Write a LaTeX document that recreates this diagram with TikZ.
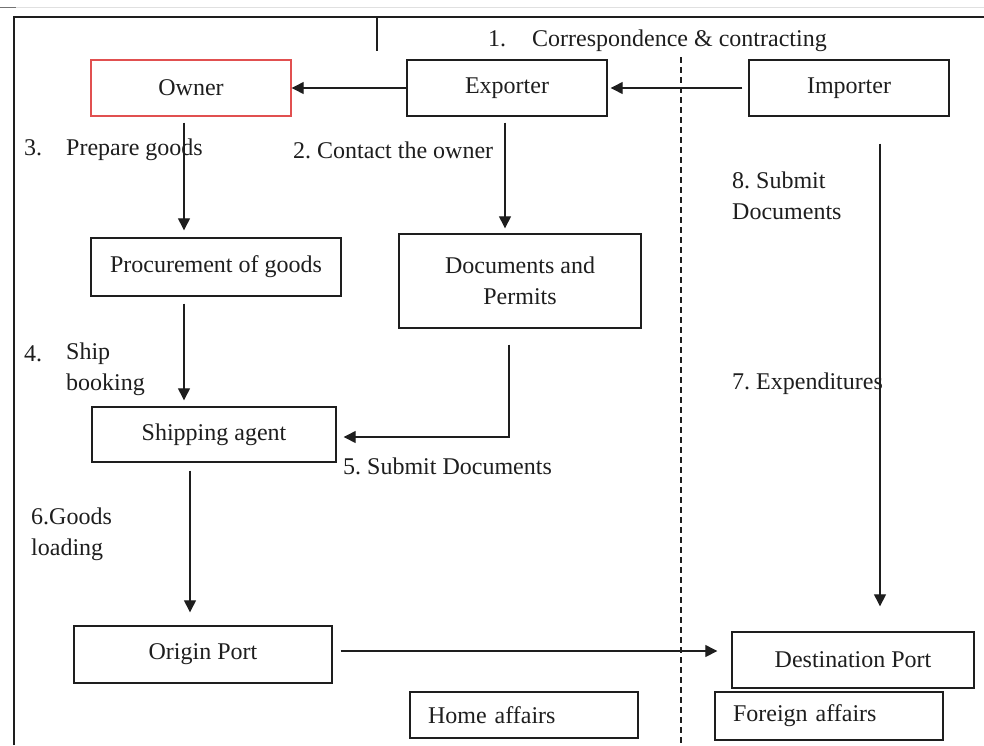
\documentclass[tikz,border=0pt]{standalone}
\usepackage{fontspec}
\setmainfont{Liberation Serif}
\usetikzlibrary{arrows.meta}
\definecolor{ink}{RGB}{30,30,30}
\definecolor{ownerred}{RGB}{225,80,80}
\frenchspacing
\begin{document}
\begin{tikzpicture}[x=1pt,y=-1pt,
  every node/.style={font=\fontsize{24}{31}\selectfont, text=ink},
  box/.style={draw=ink, line width=1.4pt, rectangle, inner sep=0pt, align=center},
  lbl/.style={anchor=west, inner sep=0pt, align=left},
  arr/.style={draw=ink, line width=1.3pt, -{Triangle[length=12pt,width=12pt]}},
  frame/.style={draw=ink, line width=1.5pt}]
\useasboundingbox (0,0) rectangle (984,745);
\fill[white] (0,0) rectangle (984,745);

% outer frame and page marks
\draw[black!12, line width=1pt] (0,7) -- (984,7);
\draw[black!55, line width=1pt] (0,7) -- (16,7);
\draw[frame] (14,745) -- (14,17) -- (984,17);
\draw[frame] (377,17) -- (377,51);

% home / foreign divider
\draw[ink, line width=1.1pt, dash pattern=on 6pt off 4pt] (681,57) -- (681,745);

% boxes
\node[box, draw=ownerred, minimum width=200pt, minimum height=56pt] (owner) at (191,88) {Owner};
\node[box, minimum width=200pt, minimum height=56pt] (exporter) at (507,88) {Exporter};
\node[box, minimum width=200pt, minimum height=56pt] (importer) at (849,88) {Importer};
\node[box, minimum width=250pt, minimum height=58pt] (procure) at (216,267) {Procurement of goods};
\node[box, minimum width=242pt, minimum height=94pt] (docs) at (520,281) {Documents and\\Permits};
\node[box, minimum width=244pt, minimum height=55pt] (shipping) at (214,434.5) {Shipping agent};
\node[box, minimum width=258pt, minimum height=57pt] (origin) at (203,654.5) {Origin Port};
\node[box, minimum width=242pt, minimum height=56pt] (dest) at (853,660) {Destination Port};
\node[box, minimum width=228pt, minimum height=46pt, text width=192pt, align=left] (home) at (524,715) {Home affairs};
\node[box, minimum width=228pt, minimum height=48pt, text width=192pt, align=left] (foreign) at (829,716) {Foreign affairs};

% labels
\node[lbl] (l1) at (488,41) {1.\hspace{26pt}Correspondence \& contracting};
\node[lbl] (l3) at (24,150) {3.\hspace{24pt}Prepare goods};
\node[lbl] (l2) at (293,150) {2. Contact the owner};
\node[lbl] (l8) at (732,195.5) {8. Submit\\Documents};
\node[lbl] (l4n) at (24,354) {4.};
\node[lbl] (l4) at (66,369.5) {Ship\\booking};
\node[lbl] (l7) at (732,384) {7. Expenditures};
\node[lbl] (l5) at (343,466) {5. Submit Documents};
\node[lbl] (l6) at (31,534.5) {6.Goods\\loading};

% connector columns and rows
\coordinate (colA) at (184,0);
\coordinate (colB) at (505,0);
\coordinate (colC) at (509,0);
\coordinate (colD) at (190,0);
\coordinate (colE) at (880,0);
\coordinate (rowE) at (0,651);

% connectors
\draw[arr] (exporter.west) -- (owner.east);
\draw[arr, shorten <=6pt, shorten >=3pt] (importer.west) -- (exporter.east);
\draw[arr, shorten <=6pt, shorten >=7pt] (owner.south -| colA) -- (procure.north -| colA);
\draw[arr, shorten <=6pt, shorten >=5pt] (exporter.south -| colB) -- (docs.north -| colB);
\draw[arr, shorten <=7pt, shorten >=6pt] (procure.south -| colA) -- (shipping.north -| colA);
\draw[arr, shorten <=16pt, shorten >=7pt] (docs.south -| colC) |- ([yshift=-2.5pt]shipping.east);
\draw[arr, shorten <=8pt, shorten >=13pt] (shipping.south -| colD) -- (origin.north -| colD);
\draw[arr, shorten <=8pt, shorten >=14pt] (origin.east |- rowE) -- (dest.west |- rowE);
\draw[arr, shorten <=27pt, shorten >=25pt] (importer.south -| colE) -- (dest.north -| colE);
\end{tikzpicture}
\end{document}
